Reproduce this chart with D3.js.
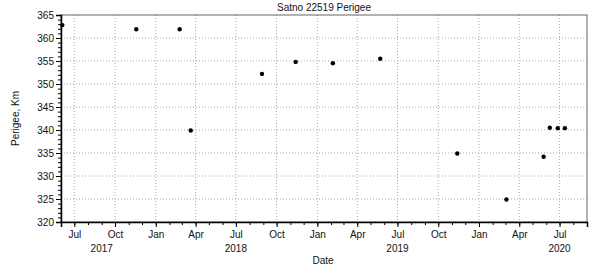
<!DOCTYPE html>
<html>
<head>
<meta charset="utf-8">
<script src="https://cdn.jsdelivr.net/npm/d3@7"></script>
<style>
  body { margin: 0; background: #fff; }
  svg { display: block; font-family: "Liberation Sans", Arial, sans-serif; }
  .grid line { stroke: #aaa; stroke-dasharray: 1,2; }
</style>
</head>
<body>
<div id="chart"></div>
<script>
// 資料：日期與近地點 (km)
const dates = ['2017-06-04', '2017-11-18', '2018-02-24', '2018-03-21', '2018-08-29',
  '2018-11-13', '2019-02-05', '2019-05-23', '2019-11-13', '2020-03-03',
  '2020-05-26', '2020-06-09', '2020-06-27', '2020-07-13'];
const perigee = [362.8, 361.9, 361.9, 339.9, 352.2, 354.8, 354.5, 355.5, 334.9, 324.9,
  334.2, 340.5, 340.4, 340.4];
const yTicks = [320, 325, 330, 335, 340, 345, 350, 355, 360, 365];
const yearLabels = [['2017', '2017-09-01'], ['2018', '2018-07-01'], ['2019', '2019-07-01'], ['2020', '2020-07-01']];

const W = 600, H = 269;
const margin = { top: 15, right: 13, bottom: 47, left: 61 };
const parse = d3.utcParse('%Y-%m-%d');
const points = dates.map((d, i) => ({ date: parse(d), v: perigee[i] }));

const svg = d3.select('#chart').append('svg').attr('width', W).attr('height', H);

const x = d3.scaleUtc()
  .domain([parse('2017-06-01'), parse('2020-09-01')])
  .range([margin.left, W - margin.right]);
const y = d3.scaleLinear().domain([320, 365]).range([H - margin.bottom, margin.top]);

const quarters = d3.utcMonth.every(3).range(parse('2017-07-01'), parse('2020-09-01'));
const months = d3.utcMonth.range(parse('2017-06-01'), parse('2020-09-02'));
const fmtMonth = d3.utcFormat('%b');

// 格線
svg.append('g').attr('class', 'grid')
  .selectAll('line').data(quarters).enter().append('line')
  .attr('x1', d => x(d)).attr('x2', d => x(d))
  .attr('y1', margin.top).attr('y2', H - margin.bottom);
svg.append('g').attr('class', 'grid')
  .selectAll('line').data(yTicks.slice(1, -1)).enter().append('line')
  .attr('x1', margin.left).attr('x2', W - margin.right)
  .attr('y1', d => y(d)).attr('y2', d => y(d));

// 外框
svg.append('rect')
  .attr('x', margin.left).attr('y', margin.top)
  .attr('width', W - margin.left - margin.right)
  .attr('height', H - margin.top - margin.bottom)
  .attr('fill', 'none').attr('stroke', '#666').attr('stroke-width', 1);

// X 軸
const xMinor = svg.append('g').attr('transform', `translate(0,${H - margin.bottom})`)
  .call(d3.axisBottom(x).tickValues(months).tickSize(3).tickFormat(''));
xMinor.select('.domain').remove();
const xAxis = svg.append('g').attr('transform', `translate(0,${H - margin.bottom})`)
  .call(d3.axisBottom(x).tickValues(quarters).tickSize(5).tickPadding(4).tickFormat(fmtMonth));
xAxis.select('.domain').attr('stroke-width', 1.5);
xAxis.selectAll('text').attr('font-size', 10).attr('fill', '#111');

svg.append('g').selectAll('text').data(yearLabels).enter().append('text')
  .attr('x', d => x(parse(d[1])))
  .attr('y', H - margin.bottom + 30)
  .attr('text-anchor', 'middle').attr('font-size', 10).attr('fill', '#111')
  .text(d => d[0]);

// Y 軸
const yMinor = svg.append('g').attr('transform', `translate(${margin.left},0)`)
  .call(d3.axisLeft(y).tickValues(d3.range(320, 366, 1)).tickSize(3).tickFormat(''));
yMinor.select('.domain').remove();
const yAxis = svg.append('g').attr('transform', `translate(${margin.left},0)`)
  .call(d3.axisLeft(y).tickValues(yTicks).tickSize(5).tickPadding(2));
yAxis.select('.domain').attr('stroke-width', 1.5);
yAxis.selectAll('text').attr('font-size', 10).attr('fill', '#111');

// 資料點
svg.append('g').selectAll('circle').data(points).enter().append('circle')
  .attr('cx', d => x(d.date)).attr('cy', d => y(d.v))
  .attr('r', 2.2).attr('fill', '#000');

// 標題與軸標
svg.append('text').attr('x', 324).attr('y', 11)
  .attr('text-anchor', 'middle').attr('font-size', 10).attr('fill', '#111')
  .text('Satno 22519 Perigee');
svg.append('text').attr('x', 323).attr('y', H - 5)
  .attr('text-anchor', 'middle').attr('font-size', 10).attr('fill', '#111')
  .text('Date');
svg.append('text')
  .attr('transform', `translate(19,${(margin.top + H - margin.bottom) / 2}) rotate(-90)`)
  .attr('text-anchor', 'middle').attr('font-size', 10).attr('fill', '#111')
  .text('Perigee, Km');
</script>
</body>
</html>
